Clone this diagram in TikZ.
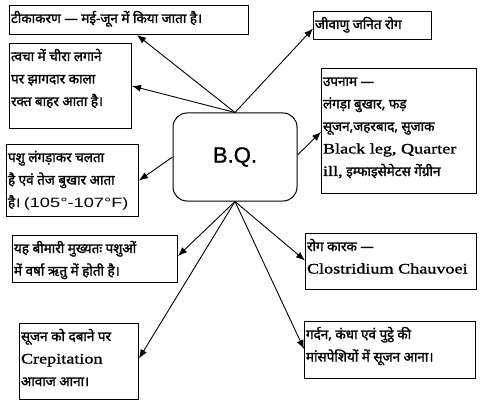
\documentclass[tikz,border=0pt]{standalone}
\usepackage{fontspec}
\setmainfont{Liberation Serif}
\setsansfont{Liberation Sans}
\newfontfamily\hin[Script=Devanagari,FakeBold=1.6]{Noto Sans}
\newfontfamily\lat[FakeStretch=1.25,FakeBold=1.2]{Liberation Serif}
\newfontfamily\num[FakeStretch=1.35]{Liberation Sans}
\newfontfamily\bqfont[FakeBold=1.2]{Liberation Sans}
\usepackage{tikz}
\usetikzlibrary{arrows.meta,calc}
\newcommand{\boxtxt}[3]{\parbox[t][#2][t]{#1}{\fontsize{13.5}{22.5}\selectfont\hin\rule{0pt}{16pt}#3}}
\newcommand{\engl}[1]{{\lat\fontsize{14.5}{22.5}\selectfont #1}}
\tikzset{
infobox/.style={draw, line width=1pt, anchor=north west, inner sep=1.5pt},
mainbox/.style={draw, line width=1pt, rounded corners=14pt, minimum width=124pt, minimum height=88pt, font=\bqfont\fontsize{22}{26}\selectfont},
conn/.style={line width=0.9pt, -{Latex[length=9pt,width=7pt]}}
}
\begin{document}
\begin{tikzpicture}[x=1pt,y=-1pt]
\useasboundingbox (0,0) rectangle (496,404);
\node[mainbox] (bq) at (235,157) {B.Q.};
\node[infobox] (tika) at (9,5) {\boxtxt{236pt}{26pt}{टीकाकरण — मई-जून में किया जाता है।}};
\node[infobox] (tvacha) at (9,43) {\boxtxt{119pt}{82pt}{त्वचा में चीरा लगाने\\पर झागदार काला\\रक्त बाहर आता है।}};
\node[infobox] (jivanu) at (313,11) {\boxtxt{115pt}{25pt}{जीवाणु जनित रोग}};
\node[infobox] (upnam) at (321,68) {\boxtxt{152pt}{122pt}{उपनाम —\\लंगड़ा बुखार, फड़\\सूजन,जहरबाद, सुजाक\\\engl{Black leg, Quarter}\\\engl{ill,} इम्फाइसेमेटस गेंग्रीन}};
\node[infobox] (pashu) at (6,144) {\boxtxt{129pt}{69pt}{पशु लंगड़ाकर चलता\\है एवं तेज बुखार आता\\है। {\num\fontsize{13.5}{22.5}\selectfont(105°-107°F)}}};
\node[infobox] (yah) at (12,235) {\boxtxt{162pt}{44pt}{यह बीमारी मुख्यतः पशुओं\\में वर्षा ऋतु में होती है।}};
\node[infobox] (karak) at (305,233) {\boxtxt{168pt}{53pt}{रोग कारक —\\\engl{Clostridium Chauvoei}}};
\node[infobox] (sujan) at (19,323) {\boxtxt{116pt}{73pt}{सूजन को दबाने पर\\\engl{Crepitation}\\आवाज आना।}};
\node[infobox] (gardan) at (304,321) {\boxtxt{168pt}{54pt}{गर्दन, कंधा एवं पुट्ठे की\\मांसपेशियों में सूजन आना।}};
\draw[conn] (bq.north) -- ([xshift=128pt]tika.south west);
\draw[conn] (bq.north) -- (tvacha.east);
\draw[conn] (bq.north) -- ([yshift=-3pt]jivanu.west);
\draw[conn] ([yshift=2pt]bq.east) -- ([yshift=-1pt]upnam.west);
\draw[conn] (bq.west) -- (pashu.east);
\draw[conn] (bq.south) -- ([yshift=3pt]yah.east);
\draw[conn] (bq.south) -- ([yshift=1pt]karak.west);
\draw[conn] (bq.south) -- ([yshift=3pt]sujan.east);
\draw[conn] (bq.south) -- ([yshift=1pt]gardan.west);
\end{tikzpicture}
\end{document}
